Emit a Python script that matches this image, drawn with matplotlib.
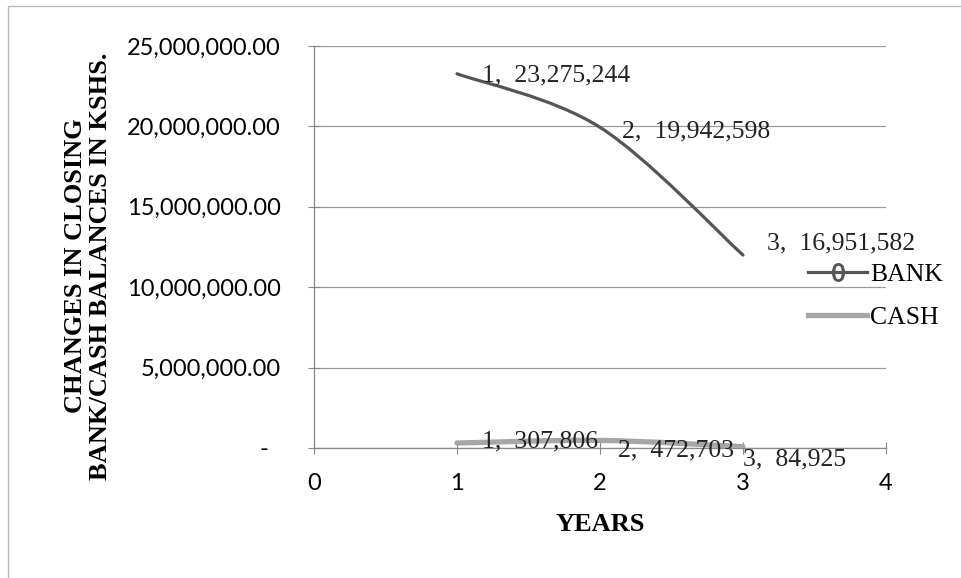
import matplotlib
matplotlib.use("Agg")
import matplotlib.pyplot as plt
from matplotlib.path import Path
from matplotlib.patches import PathPatch, Rectangle
from matplotlib.lines import Line2D
import numpy as np

# ---- data ----
years = [1, 2, 3]
bank_values = [23275244, 19942598, 12000000]   # plotted positions
bank_labels = ["1,  23,275,244", "2,  19,942,598", "3,  16,951,582"]
cash_values = [307806, 472703, 84925]
cash_labels = ["1,  307,806", "2,  472,703", "3,  84,925"]
series_names = ["BANK", "CASH"]
x_ticks = [0, 1, 2, 3, 4]
y_ticks = [0, 5000000, 10000000, 15000000, 20000000, 25000000]
y_tick_labels = ["-  ", "5,000,000.00", "10,000,000.00", "15,000,000.00",
                 "20,000,000.00", "25,000,000.00"]
x_label = "YEARS"
y_label = "CHANGES IN CLOSING\nBANK/CASH BALANCES IN KSHS."

SERIF = ["Liberation Serif", "DejaVu Serif"]
SANS = ["Lato", "DejaVu Sans"]
BANK_C = "#555555"
CASH_C = "#a6a6a6"


def smooth_path(xs, ys):
    """Catmull-Rom style Bezier path through the data points (Excel 'smoothed line')."""
    pts = np.column_stack([xs, ys]).astype(float)
    n = len(pts)
    verts = [tuple(pts[0])]
    codes = [Path.MOVETO]
    for i in range(n - 1):
        p0 = pts[i - 1] if i > 0 else pts[i]
        p1 = pts[i]
        p2 = pts[i + 1]
        p3 = pts[i + 2] if i + 2 < n else pts[i + 1]
        c1 = p1 + (p2 - p0) / 6.0
        c2 = p2 - (p3 - p1) / 6.0
        verts += [tuple(c1), tuple(c2), tuple(p2)]
        codes += [Path.CURVE4] * 3
    return Path(verts, codes)


fig = plt.figure(figsize=(9.61, 5.78), dpi=100)
fig.patch.set_facecolor("white")

# outer chart frame
fig.add_artist(Rectangle((8 / 961, -0.05), 1.1, 1 - 6 / 578 + 0.05,
                         transform=fig.transFigure, fill=False,
                         edgecolor="#b8b8c4", linewidth=1.0))

ax = fig.add_axes([314 / 961, 1 - 448 / 578, 572 / 961, (448 - 46) / 578])
ax.set_xlim(0, 4)
ax.set_ylim(0, 25000000)

ax.set_xticks(x_ticks)
ax.set_xticklabels([str(t) for t in x_ticks], fontfamily=SANS, fontsize=17)
ax.set_yticks(y_ticks)
ax.set_yticklabels(y_tick_labels, fontfamily=SANS, fontsize=17)
ax.tick_params(axis="both", direction="inout", length=8, width=0.8, color="#888888")
ax.tick_params(axis="y", pad=20)
ax.tick_params(axis="x", pad=14)

for s in ["top", "right"]:
    ax.spines[s].set_visible(False)
for s in ["left", "bottom"]:
    ax.spines[s].set_color("#888888")
    ax.spines[s].set_linewidth(0.9)

ax.yaxis.grid(True, color="#9a9a9a", linewidth=0.9)
ax.set_axisbelow(True)

# smoothed lines
ax.add_patch(PathPatch(smooth_path(years, cash_values), fill=False,
                       edgecolor=CASH_C, linewidth=3.8, capstyle="round", zorder=3))
ax.add_patch(PathPatch(smooth_path(years, bank_values), fill=False,
                       edgecolor=BANK_C, linewidth=2.3, capstyle="round", zorder=4))

# data labels
bank_offsets = [(18, -1), (16, -3), (17, 8)]
for x, y, lab, off in zip(years, bank_values, bank_labels, bank_offsets):
    ax.annotate(lab, (x, y), xytext=off, textcoords="offset points",
                ha="left", va="center", fontfamily=SERIF, fontsize=18.5, color="#222222",
                zorder=5)
cash_offsets = [(18, 1), (13, -7), (0, -9)]
for x, y, lab, off in zip(years, cash_values, cash_labels, cash_offsets):
    ax.annotate(lab, (x, y), xytext=off, textcoords="offset points",
                ha="left", va="center", fontfamily=SERIF, fontsize=18.5, color="#222222",
                zorder=5)

ax.set_xlabel(x_label, fontfamily=SERIF, fontsize=19, fontweight="bold", labelpad=14)
ax.set_ylabel(y_label, fontfamily=SERIF, fontsize=19, fontweight="bold",
              linespacing=1.12)
ax.yaxis.set_label_coords((112 - 314) / 572, (448 - 266) / 402)

handles = [
    Line2D([], [], color=BANK_C, linewidth=2.3, marker="$0$", markersize=13,
           markeredgewidth=0.6, markerfacecolor=BANK_C, markeredgecolor=BANK_C),
    Line2D([], [], color=CASH_C, linewidth=3.8),
]
leg = fig.legend(handles, series_names, loc="center left",
                 bbox_to_anchor=(808 / 961, 1 - 296 / 578), frameon=False,
                 prop={"family": SERIF, "size": 18.5}, handlelength=2.3,
                 handletextpad=0.12, labelspacing=0.75, borderpad=0, borderaxespad=0)

fig.savefig("out.png", dpi=100, facecolor="white")
